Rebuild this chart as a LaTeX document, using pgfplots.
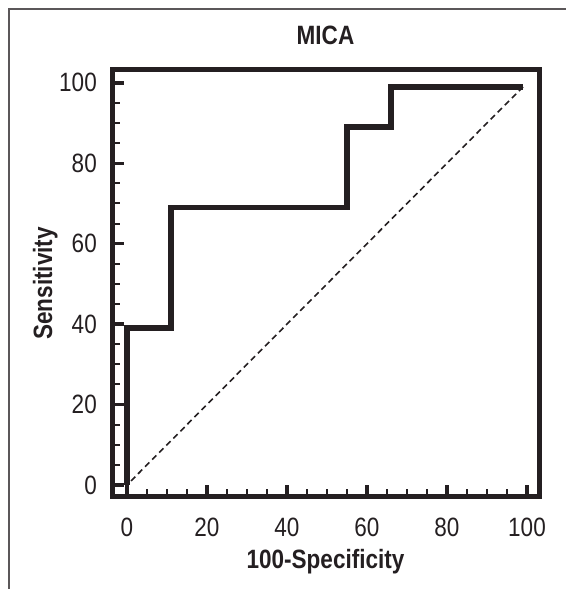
\documentclass[border=0pt]{standalone}
\usepackage{fontspec}
\setmainfont{Liberation Sans}[FakeStretch=0.85]
\usepackage{pgfplots}
\pgfplotsset{compat=1.18}
\definecolor{ink}{rgb}{0.14,0.12,0.13}
\begin{document}
\begin{tikzpicture}[x=1pt,y=1pt]
\useasboundingbox (0,0) rectangle (566,589);
\draw[line width=1.2pt, color=ink!75] (9,0) -- (9,580) -- (566,580);
\begin{axis}[
  at={(112pt,92pt)}, anchor=south west,
  scale only axis, width=427pt, height=427pt,
  xmin=-3.75, xmax=103, ymin=-3, ymax=103.2,
  axis lines=box,
  axis line style={line width=5pt, color=ink},
  xtick={0,20,...,100}, ytick={0,20,...,100},
  minor x tick num=3, minor y tick num=3,
  xtick pos=left, ytick pos=left,
  tick align=inside,
  major tick length=12pt, minor tick length=8pt,
  major tick style={line width=3.5pt, color=ink},
  minor tick style={line width=2pt, color=ink},
  /pgf/number format/assume math mode=true,
  tick label style={font=\fontsize{26.5}{30}\selectfont, color=ink, inner sep=0pt},
  yticklabel style={anchor=east, xshift=-15pt},
  xticklabel style={anchor=north, yshift=-21pt},
  title={MICA},
  title style={font=\bfseries\fontsize{26.5}{30}\selectfont, color=ink, at={(axis description cs:0.5,1.0468)}, anchor=base},
  xlabel={100-Specificity},
  xlabel style={font=\bfseries\fontsize{26.5}{30}\selectfont, color=ink, at={(axis description cs:0.5,-0.168)}, anchor=base},
  ylabel={Sensitivity},
  ylabel style={font=\bfseries\fontsize{26.5}{30}\selectfont, color=ink, at={(axis description cs:-0.1405,0.5)}, anchor=base, rotate=0},
  clip=false,
]
\addplot[ink, line width=1.6pt, dash pattern=on 6pt off 4pt] coordinates {(1,1) (99,99)};
\addplot[ink, line width=5.5pt, line join=miter] coordinates {
  (0,0) (0,39) (11,39) (11,69) (55,69) (55,89) (66,89) (66,99) (99,99)};
\end{axis}
\end{tikzpicture}
\end{document}
